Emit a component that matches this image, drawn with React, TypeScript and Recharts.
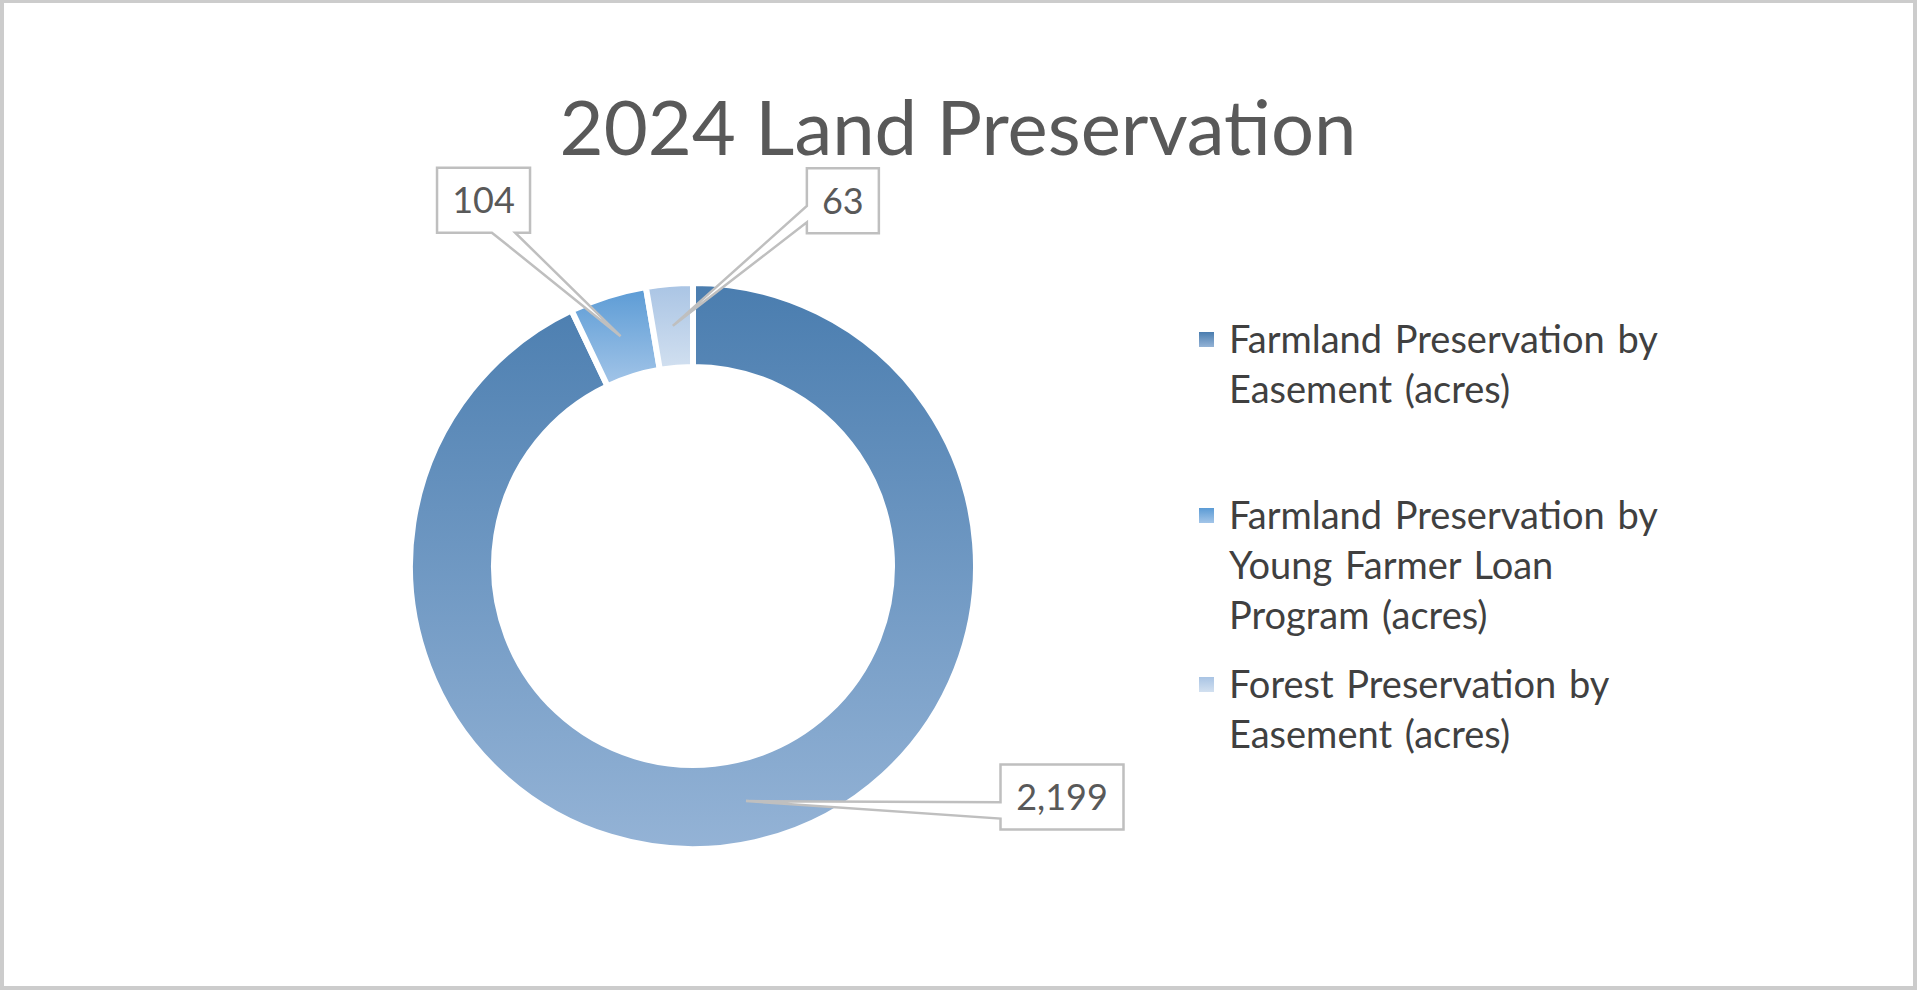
import React from "react";
import { PieChart, Pie, Cell, Legend } from "recharts";

const categories = [
  "Farmland Preservation by Easement (acres)",
  "Farmland Preservation by Young Farmer Loan Program (acres)",
  "Forest Preservation by Easement (acres)",
];
const acres = [2199, 104, 63];

const topColors = ["#4A7DAF", "#5B9BD5", "#A9C4E4"];
const bottomColors = ["#94B3D6", "#A3C5E8", "#D2E0F0"];

// callout box centre, relative to the point inside the slice
const calloutOffsets = [
  { dx: 316, dy: -4 },
  { dx: -137, dy: -136 },
  { dx: 170, dy: -125 },
];
const legendTops = [13, 189, 358];

const RAD = Math.PI / 180;
const FONT = "Lato, 'Open Sans', sans-serif";

const data = categories.map((name, i) => ({ name, value: acres[i] }));

const renderCallout = (props: any) => {
  const { cx, cy, midAngle, innerRadius, outerRadius, value, index } = props;
  const r = (innerRadius + outerRadius) / 2;
  const tx = cx + r * Math.cos(-midAngle * RAD);
  const ty = cy + r * Math.sin(-midAngle * RAD);
  const text = Number(value).toLocaleString("en-US");
  const digits = text.replace(/[^0-9]/g, "").length;
  const commas = text.length - digits;
  const w = digits * 21 + commas * 9 + 30;
  const h = 65;
  const off = calloutOffsets[index];
  const bx = tx + off.dx;
  const by = ty + off.dy;
  const x0 = bx - w / 2;
  const x1 = bx + w / 2;
  const y0 = by - h / 2;
  const y1 = by + h / 2;
  const relX = (tx - bx) / w;
  const relY = (ty - by) / h;
  let d = "";
  if (Math.abs(relX) > Math.abs(relY)) {
    const b1 = y0 + 0.58 * h;
    const b2 = y0 + 0.83 * h;
    if (relX < 0) {
      d = `M${x0},${y0} L${x1},${y0} L${x1},${y1} L${x0},${y1} L${x0},${b2} L${tx},${ty} L${x0},${b1} Z`;
    } else {
      d = `M${x0},${y0} L${x1},${y0} L${x1},${b1} L${tx},${ty} L${x1},${b2} L${x1},${y1} L${x0},${y1} Z`;
    }
  } else {
    const a1 = x0 + 0.59 * w;
    const a2 = x0 + 0.84 * w;
    if (relY > 0) {
      d = `M${x0},${y0} L${x1},${y0} L${x1},${y1} L${a2},${y1} L${tx},${ty} L${a1},${y1} L${x0},${y1} Z`;
    } else {
      d = `M${x0},${y0} L${a1},${y0} L${tx},${ty} L${a2},${y0} L${x1},${y0} L${x1},${y1} L${x0},${y1} Z`;
    }
  }
  return (
    <g key={`callout-${index}`}>
      <path d={d} fill="#FFFFFF" stroke="#BFBFBF" strokeWidth={2.5} strokeLinejoin="miter" />
      <text
        x={bx}
        y={by + 13}
        textAnchor="middle"
        fontSize={36}
        fontFamily={FONT}
        fill="#595959"
      >
        {text}
      </text>
    </g>
  );
};

const renderLegend = (props: any) => {
  const { payload } = props;
  return (
    <div style={{ position: "relative", width: 480, height: 480, fontFamily: FONT }}>
      {(payload || []).map((entry: any, i: number) => (
        <div key={`leg-${i}`} style={{ position: "absolute", left: 0, top: legendTops[i], width: 480 }}>
          <div
            style={{
              position: "absolute",
              left: 9,
              top: 19,
              width: 15,
              height: 15,
              background: `linear-gradient(${topColors[i]}, ${bottomColors[i]})`,
            }}
          />
          <div
            style={{
              position: "absolute",
              left: 39,
              top: 0,
              width: 432,
              fontSize: 38,
              wordSpacing: 3,
              lineHeight: "50px",
              color: "#404040",
            }}
          >
            {entry.value}
          </div>
        </div>
      ))}
    </div>
  );
};

export default function App() {
  return (
    <div
      style={{
        position: "absolute",
        left: 0,
        top: 0,
        width: 1917,
        height: 990,
        background: "#FFFFFF",
        fontFamily: FONT,
      }}
    >
      <PieChart width={1917} height={990} margin={{ top: 0, right: 0, bottom: 0, left: 0 }}>
        <defs>
          {categories.map((_, i) => (
            <linearGradient key={`g${i}`} id={`slice${i}`} x1="0" y1="0" x2="0" y2="1">
              <stop offset="0%" stopColor={topColors[i]} />
              <stop offset="100%" stopColor={bottomColors[i]} />
            </linearGradient>
          ))}
        </defs>
        <text x={958} y={155} textAnchor="middle" fontSize={76} fontFamily={FONT} fill="#595959">
          2024 Land Preservation
        </text>
        <Pie
          data={data}
          dataKey="value"
          nameKey="name"
          cx={693}
          cy={566}
          innerRadius={199}
          outerRadius={283}
          startAngle={90}
          endAngle={-270}
          stroke="#FFFFFF"
          strokeWidth={6}
          label={renderCallout}
          labelLine={false}
          isAnimationActive={false}
        >
          {data.map((_, i) => (
            <Cell key={`c${i}`} fill={`url(#slice${i})`} />
          ))}
        </Pie>
        <Legend
          layout="vertical"
          align="right"
          verticalAlign="top"
          content={renderLegend}
          wrapperStyle={{ left: 1190, top: 300, width: 480, height: 480 }}
        />
      </PieChart>
      <div
        style={{
          position: "absolute",
          left: 0,
          top: 0,
          width: 1917,
          height: 990,
          boxSizing: "border-box",
          borderStyle: "solid",
          borderColor: "#CCCCCC",
          borderWidth: "3px 4px 4px 4px",
          pointerEvents: "none",
        }}
      />
    </div>
  );
}
